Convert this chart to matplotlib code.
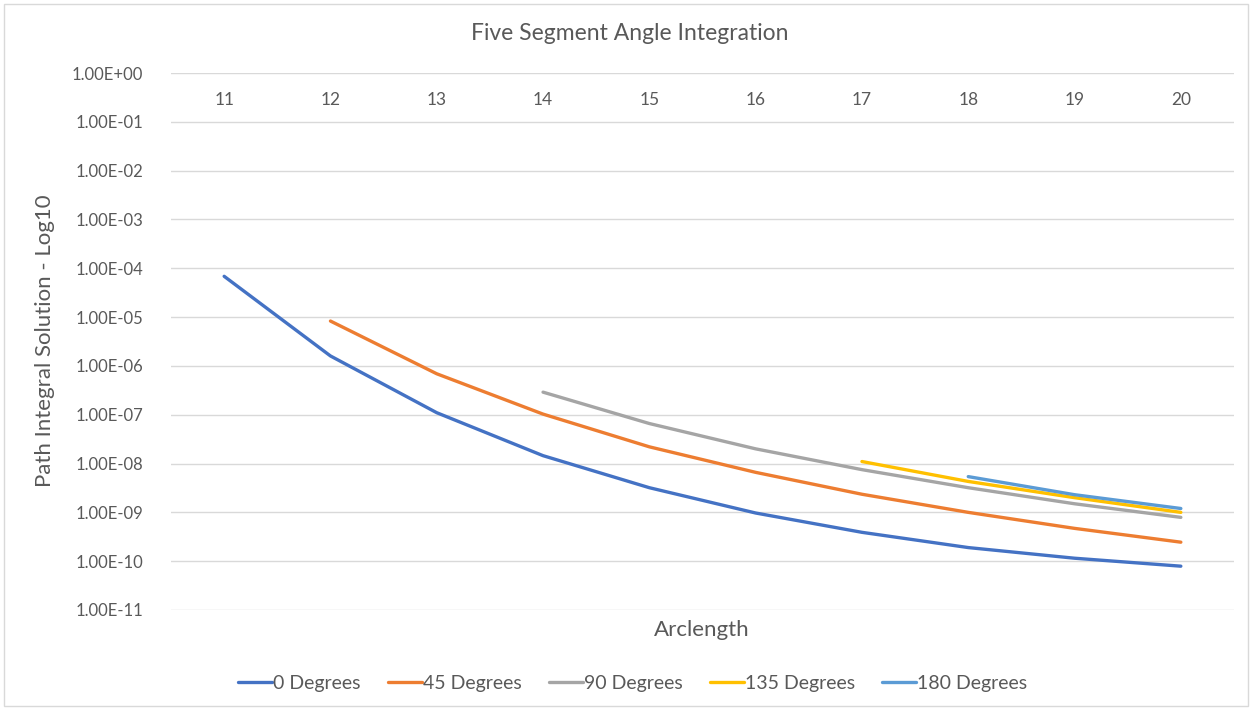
import matplotlib
matplotlib.use("Agg")
import matplotlib.pyplot as plt
from matplotlib.patches import Rectangle
from matplotlib.ticker import FixedLocator, NullLocator

# arclength categories
arclength = [11, 12, 13, 14, 15, 16, 17, 18, 19, 20]

# path integral solutions (None = no value)
deg0 = [6.85e-5, 1.6e-6, 1.1e-7, 1.45e-8, 3.2e-9, 9.7e-10, 3.9e-10, 1.9e-10, 1.15e-10, 7.9e-11]
deg45 = [None, 8.3e-6, 6.9e-7, 1.03e-7, 2.2e-8, 6.6e-9, 2.35e-9, 1.0e-9, 4.7e-10, 2.45e-10]
deg90 = [None, None, None, 2.9e-7, 6.6e-8, 2.0e-8, 7.5e-9, 3.2e-9, 1.5e-9, 7.9e-10]
deg135 = [None, None, None, None, None, None, 1.1e-8, 4.3e-9, 2.0e-9, 1.0e-9]
deg180 = [None, None, None, None, None, None, None, 5.4e-9, 2.3e-9, 1.2e-9]

series_names = ["0 Degrees", "45 Degrees", "90 Degrees", "135 Degrees", "180 Degrees"]
series_colors = ["#4472C4", "#ED7D31", "#A5A5A5", "#FFC000", "#5B9BD5"]

y_ticks = [10.0 ** -k for k in range(0, 12)]

text_color = "#595959"
plt.rcParams["font.family"] = ["Lato", "DejaVu Sans"]

fig = plt.figure(figsize=(12.52, 7.08), dpi=100)
fig.patches.append(Rectangle((0.003, 0.003), 0.994, 0.992, transform=fig.transFigure,
                             fill=False, edgecolor="#D9D9D9", linewidth=1.0))

ax = fig.add_axes([171 / 1252, 1 - 610 / 708, (1234 - 171) / 1252, (610 - 73) / 708])

for name, vals, col in zip(series_names, [deg0, deg45, deg90, deg135, deg180], series_colors):
    xs = [x for x, v in zip(arclength, vals) if v is not None]
    ys = [v for v in vals if v is not None]
    ax.plot(xs, ys, color=col, linewidth=2.4, solid_capstyle="round", label=name)

ax.set_yscale("log")
ax.set_ylim(1e-11, 1e0)
ax.set_xlim(arclength[0] - 0.5, arclength[-1] + 0.5)
ax.yaxis.set_major_locator(FixedLocator(y_ticks))
ax.yaxis.set_minor_locator(NullLocator())
ax.set_yticklabels([f"{t:.2E}" for t in y_ticks])
ax.tick_params(axis="y", length=0, pad=20, labelsize=12, labelcolor=text_color)
ax.grid(axis="y", color="#D9D9D9", linewidth=1.0)
ax.set_axisbelow(True)

ax.set_xticks([])
for x in arclength:
    ax.text(x, 0.9497, str(x), transform=ax.get_xaxis_transform(), ha="center", va="center",
            fontsize=12.5, color=text_color)

for s in ax.spines.values():
    s.set_visible(False)

fig.text(630 / 1252, 1 - 34 / 708, "Five Segment Angle Integration", ha="center", va="center",
         fontsize=16.5, color=text_color)
fig.text(702 / 1252, 1 - 630 / 708, "Arclength", ha="center", va="center", fontsize=16, color=text_color)
fig.text(45 / 1252, 1 - 341 / 708, "Path Integral Solution - Log10", ha="center", va="center",
         rotation=90, fontsize=16, color=text_color)

leg = fig.legend(loc="center", bbox_to_anchor=(633 / 1252, 1 - 683 / 708), ncol=5, frameon=False,
                 fontsize=14, handlelength=1.75, handletextpad=0.05, columnspacing=1.4)
for t in leg.get_texts():
    t.set_color(text_color)

fig.savefig("out.png", dpi=100)
